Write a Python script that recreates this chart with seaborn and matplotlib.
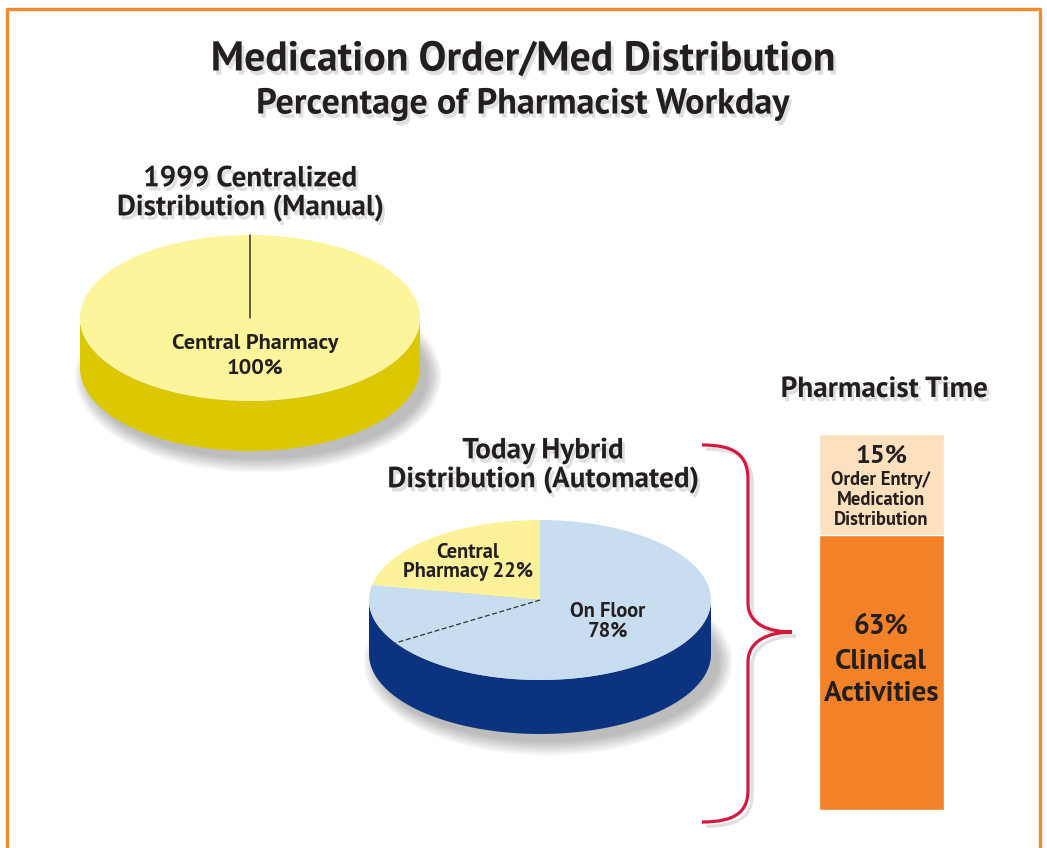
import numpy as np
import seaborn as sns
import matplotlib.pyplot as plt
import matplotlib.patheffects as pe
from matplotlib.path import Path
from matplotlib.patches import PathPatch, Ellipse, Polygon

# data
pie_1999_labels = ['Central Pharmacy']
pie_1999_shares = [100]
pie_today_labels = ['Central Pharmacy', 'On Floor']
pie_today_shares = [22, 78]
floor_split_share = 12  # dashed divider inside the "On Floor" slice
time_labels = ['Order Entry/\nMedication\nDistribution', 'Clinical\nActivities']
time_shares = [15, 63]

sns.set_theme(style='white')
plt.rcParams['font.family'] = ['PT Sans', 'Fira Sans', 'DejaVu Sans']
ink = '#231f20'

shadow = [pe.SimplePatchShadow(offset=(2, -3), shadow_rgbFace='0.5', alpha=0.25), pe.Normal()]

fig = plt.figure(figsize=(10.47, 8.48), dpi=100)
fig.patch.set_facecolor('white')
ax = fig.add_axes([0, 0, 1, 1])
ax.set_xlim(0, 1047)
ax.set_ylim(848, 0)
ax.axis('off')
ax.patch.set_visible(False)
ax.set_zorder(2)

# orange frame (bottom edge is cut off in the original)
ax.plot([7, 7, 1040, 1040], [848, 9, 9, 848], color='#f08a2e', lw=2.4, zorder=0)


def pie3d(cx, cy, a, b, depth, shares, tops, sides, start=90):
    edges = start + 360 * np.concatenate([[0], np.cumsum(shares)]) / sum(shares)
    # soft drop shadow
    for k in range(10):
        ax.add_patch(Ellipse((cx + 8, cy + depth + 8), 2 * a + 3 * k, 2 * b + 3 * k,
                             color='black', alpha=0.028, lw=0, zorder=1))
    for t0, t1, top, side in zip(edges[:-1], edges[1:], tops, sides):
        s0, s1 = max(t0, 180), min(t1, 360)
        if s1 > s0:
            t = np.radians(np.linspace(s0, s1, 120))
            xs = cx + a * np.cos(t)
            ys = cy - b * np.sin(t)
            poly = np.column_stack([np.r_[xs, xs[::-1]], np.r_[ys, ys[::-1] + depth]])
            ax.add_patch(Polygon(poly, closed=True, fc=side, ec='none', zorder=2))
        t = np.radians(np.linspace(t0, t1, 240))
        ax.fill(np.r_[cx, cx + a * np.cos(t), cx], np.r_[cy, cy - b * np.sin(t), cy],
                color=top, lw=0, zorder=3)
    return edges


# 1999 pie
cx1, cy1, a1, b1 = 250, 318, 170, 83
e1 = pie3d(cx1, cy1, a1, b1, 50, pie_1999_shares, ['#fdf59b'], ['#dcc800'])
t = np.radians(e1[0])
ax.plot([cx1, cx1 + a1 * np.cos(t)], [cy1, cy1 - b1 * np.sin(t)], color='#333333', lw=1.1, zorder=4)
ax.text(255, 356, f'{pie_1999_labels[0]}\n{pie_1999_shares[0]}%', ha='center', va='center',
        fontsize=16, fontweight='bold', color=ink, linespacing=1.38, zorder=5)
ax.text(cx1, 194, '1999 Centralized\nDistribution (Manual)', ha='center', va='center',
        fontsize=21, fontweight='bold', color=ink, linespacing=1.1, path_effects=shadow)

# today pie
cx2, cy2, a2, b2 = 540, 600, 171, 80
e2 = pie3d(cx2, cy2, a2, b2, 54, pie_today_shares, ['#fdf29a', '#c9ddf0'], ['#dcc800', '#0c337f'])
t = np.radians(e2[1] + 360 * floor_split_share / 100)
ax.plot([cx2, cx2 + a2 * np.cos(t)], [cy2, cy2 - b2 * np.sin(t)], color='#333333', lw=0.9,
        ls=(0, (4, 2)), zorder=4)
ax.text(468, 562, f'Central\nPharmacy {pie_today_shares[0]}%', ha='center', va='center',
        fontsize=14.8, fontweight='bold', color=ink, linespacing=1.05, zorder=5)
ax.text(608, 621, f'{pie_today_labels[1]}\n{pie_today_shares[1]}%', ha='center', va='center',
        fontsize=14.8, fontweight='bold', color=ink, linespacing=1.05, zorder=5)
ax.text(543, 466, 'Today Hybrid\nDistribution (Automated)', ha='center', va='center',
        fontsize=21, fontweight='bold', color=ink, linespacing=1.1, path_effects=shadow)

# titles
ax.text(523, 60, 'Medication Order/Med Distribution', ha='center', va='center',
        fontsize=30, fontweight='bold', color=ink, path_effects=shadow)
ax.text(523, 104, 'Percentage of Pharmacist Workday', ha='center', va='center',
        fontsize=26, fontweight='bold', color=ink, path_effects=shadow)
ax.text(884, 390, 'Pharmacist Time', ha='center', va='center',
        fontsize=21, fontweight='bold', color=ink, path_effects=shadow)

# brace linking "On Floor" to the pharmacist time bar
verts = [(702, 445), (735, 445), (748, 455), (748, 480),
         (748, 603),
         (748, 625), (770, 632), (792, 632),
         (770, 632), (748, 640), (748, 662),
         (748, 790),
         (748, 812), (735, 822), (702, 822)]
codes = [Path.MOVETO, Path.CURVE4, Path.CURVE4, Path.CURVE4, Path.LINETO,
         Path.CURVE4, Path.CURVE4, Path.CURVE4, Path.CURVE4, Path.CURVE4, Path.CURVE4,
         Path.LINETO, Path.CURVE4, Path.CURVE4, Path.CURVE4]
ax.add_patch(PathPatch(Path(verts, codes), fc='none', ec='#d6173d', lw=2.3, capstyle='butt',
                       path_effects=[pe.SimpleLineShadow(offset=(3, -3), shadow_color='0.6', alpha=0.3), pe.Normal()]))

# stacked bar: top segment first, axis runs downward; mild power scale as in the original
bax = fig.add_axes([819 / 1047, 1 - 810 / 848, 125 / 1047, 376 / 848])
bax.set_zorder(1)
bax.set_yscale('function', functions=(lambda v: np.power(np.clip(v, 0, None), 0.8),
                                      lambda v: np.power(np.clip(v, 0, None), 1.25)))
cum = np.cumsum(time_shares)
bar_shadow = [pe.SimplePatchShadow(offset=(5, -5), shadow_rgbFace='0.5', alpha=0.3), pe.Normal()]
sns.barplot(x=['time'], y=[cum[1]], color='#f28127', width=1, saturation=1, ax=bax)
sns.barplot(x=['time'], y=[cum[0]], color='#fde0bd', width=1, saturation=1, ax=bax)
for p in bax.patches[:1]:
    p.set_path_effects(bar_shadow)
bax.set_ylim(cum[-1], 0)
bax.set_xlim(-0.5, 0.5)
bax.axis('off')

ax.text(881, 456, f'{time_shares[0]}%', ha='center', va='center', fontsize=19,
        fontweight='bold', color=ink, zorder=6)
ax.text(881, 500, time_labels[0], ha='center', va='center', fontsize=13.4,
        fontweight='bold', color=ink, linespacing=1.12, zorder=6)
ax.text(881, 627, f'{time_shares[1]}%', ha='center', va='center', fontsize=20,
        fontweight='bold', color=ink, zorder=6)
ax.text(881, 678, time_labels[1], ha='center', va='center', fontsize=21,
        fontweight='bold', color=ink, linespacing=1.32, zorder=6)

fig.savefig('out.png', dpi=100, facecolor='white')
